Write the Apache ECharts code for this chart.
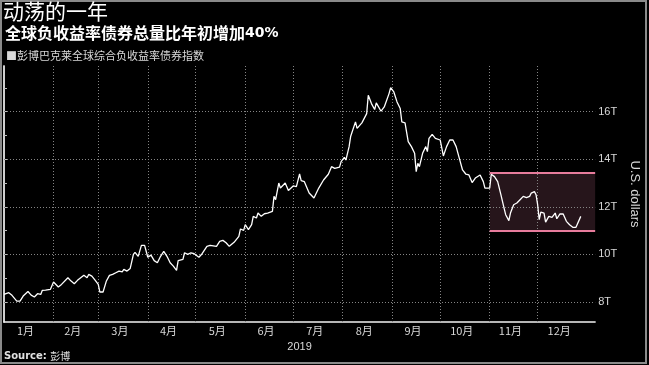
<!DOCTYPE html>
<html>
<head>
<meta charset="utf-8">
<script src="https://cdn.jsdelivr.net/npm/echarts@6/dist/echarts.min.js"></script>
<style>
    html, body { margin: 0; padding: 0; background: #000; }
    #chart { width: 649px; height: 365px; }
</style>
</head>
<body>
<div id="chart"></div>
<script>
// day of year 2019 (0 = 1 Jan) and index level in trillions of US dollars
const days = [
    0, 3, 5, 8, 10, 12, 15, 17, 19, 21, 23, 24, 26, 27, 29, 30, 31, 32, 34, 36,
    37, 40, 42, 44, 46, 48, 50, 52, 53, 55, 57, 59, 60, 62, 64, 66, 68, 70, 72, 74,
    75, 77, 79, 81, 82, 84, 86, 88, 90, 92, 94, 96, 98, 100, 102, 104, 106, 108, 109, 112,
    113, 115, 117, 119, 122, 124, 125, 127, 129, 133, 135, 137, 139, 141, 144, 147, 148, 150, 151, 153,
    155, 156, 158, 159, 161, 163, 165, 168, 169, 170, 172, 173, 176, 178, 181, 183, 185, 186, 188, 191,
    194, 197, 200, 203, 205, 207, 210, 211, 213, 214, 216, 217, 218, 220, 221, 224, 227, 228, 230, 232,
    233, 234, 236, 238, 241, 242, 244, 246, 248, 249, 251, 253, 255, 257, 258, 259, 260, 262, 264, 265,
    266, 268, 270, 273, 275, 277, 279, 281, 283, 285, 287, 289, 291, 293, 295, 298, 300, 301, 304, 305,
    307, 309, 311, 313, 314, 316, 317, 319, 321, 323, 325, 327, 329, 330, 332, 333, 334, 335, 336, 338,
    339, 341, 343, 345, 346, 348, 350, 352, 354, 356, 358, 361
];
const values = [
    8.32, 8.39, 8.28, 8.04, 8.04, 8.25, 8.44, 8.29, 8.21, 8.35, 8.32, 8.49, 8.50, 8.57, 8.53, 8.60, 8.84, 8.77, 8.63, 8.74,
    8.77, 9.02, 8.88, 8.77, 8.91, 9.02, 9.13, 9.02, 9.16, 9.09, 8.92, 8.74, 8.42, 8.42, 8.87, 9.12, 9.16, 9.23, 9.30, 9.27,
    9.37, 9.30, 9.41, 10.00, 10.09, 9.92, 10.38, 10.38, 9.88, 9.97, 9.74, 9.65, 9.92, 10.13, 9.92, 9.65, 9.51, 9.33, 9.74, 9.79,
    10.07, 10.00, 10.07, 10.03, 9.88, 10.03, 10.07, 10.34, 10.38, 10.34, 10.55, 10.59, 10.49, 10.34, 10.51, 10.76, 11.07, 11.01, 11.25, 11.04,
    11.25, 11.60, 11.53, 11.74, 11.60, 11.71, 11.74, 11.81, 12.44, 12.30, 13.00, 12.79, 13.00, 12.69, 12.88, 12.85, 13.38, 13.10, 13.06, 12.58,
    12.37, 12.79, 13.13, 13.37, 13.69, 13.62, 13.67, 13.90, 14.08, 13.97, 14.53, 14.97, 14.95, 15.57, 15.30, 15.53, 15.92, 16.69, 16.34, 16.09,
    16.37, 16.37, 16.02, 16.20, 16.76, 17.01, 16.83, 16.41, 16.13, 15.57, 15.53, 14.74, 14.53, 14.25, 13.48, 13.83, 13.69, 14.25, 14.53, 14.32,
    14.88, 15.05, 14.88, 14.81, 14.14, 14.53, 14.81, 14.81, 14.53, 14.04, 13.55, 13.38, 13.34, 13.02, 13.21, 13.34, 13.06, 12.79, 12.79, 13.37,
    13.27, 13.06, 12.51, 11.95, 11.67, 11.42, 11.74, 12.09, 12.16, 12.30, 12.44, 12.39, 12.44, 12.58, 12.64, 12.51, 12.09, 11.46, 11.78, 11.74,
    11.36, 11.60, 11.56, 11.74, 11.50, 11.70, 11.70, 11.39, 11.25, 11.14, 11.14, 11.60
];

const monthNames = ["1月", "2月", "3月", "4月", "5月", "6月", "7月", "8月", "9月", "10月", "11月", "12月"];
const monthStarts = [0, 31, 59, 90, 120, 151, 181, 212, 243, 273, 304, 334, 365];
const yTicks = [8, 9, 10, 11, 12, 13, 14, 15, 16, 17];
const yLabels = [8, 10, 12, 14, 16];
const boxStart = 304;          // 1 Nov
const boxRange = [11.0, 13.45]; // trading range marked in pink

const xMin = 0, xMax = 370;
const yMin = 7.16, yMax = 17.92;

const font = "'Liberation Sans', 'Noto Sans CJK SC', sans-serif";
const cjk = "'Noto Sans CJK SC', 'Liberation Sans', sans-serif";

const monthMids = monthNames.map((m, i) => (monthStarts[i] + monthStarts[i + 1]) / 2 - 2);
const gridStyle = { color: "#858585", width: 1, type: [1, 2] };

const chart = echarts.init(document.getElementById("chart"), null, { renderer: "canvas" });

const option = {
    backgroundColor: "#000",
    animation: false,
    grid: { left: 4, right: 44, top: 66, bottom: 43, containLabel: false },
    xAxis: {
        type: "value",
        min: xMin,
        max: xMax,
        axisLine: { show: true, lineStyle: { color: "#f2f2f2", width: 1.5 } },
        axisTick: { show: false },
        splitLine: { show: false },
        axisLabel: {
            customValues: monthMids,
            formatter: (v) => monthNames[monthStarts.filter((s) => s <= v).length - 1],
            color: "#d8d8d8",
            fontSize: 11,
            fontFamily: cjk,
            margin: 3
        },
        name: "2019",
        nameLocation: "middle",
        nameGap: 19,
        nameTextStyle: { color: "#d8d8d8", fontSize: 11, fontFamily: font }
    },
    yAxis: [
        {
            type: "value",
            position: "right",
            min: yMin,
            max: yMax,
            axisLine: { show: true, lineStyle: { color: "#bdbdbd", width: 1.5 } },
            axisTick: { show: true, customValues: yTicks, length: 3, lineStyle: { color: "#bdbdbd" } },
            splitLine: { show: false },
            axisLabel: {
                customValues: yLabels,
                formatter: (v) => v + "T",
                color: "#d8d8d8",
                fontSize: 11,
                fontFamily: font,
                margin: 3
            },
            name: "U.S. dollars",
            nameLocation: "middle",
            nameRotate: -90,
            nameGap: 31,
            nameTextStyle: { color: "#d8d8d8", fontSize: 13, fontFamily: font }
        },
        {
            type: "value",
            position: "left",
            min: yMin,
            max: yMax,
            axisLine: { show: true, lineStyle: { color: "#e6e6e6", width: 1.5 } },
            axisTick: { show: false },
            axisLabel: { show: false },
            splitLine: { show: false }
        }
    ],
    series: [
        {
            // pink range box
            type: "line",
            data: [],
            z: 1,
            markArea: {
                silent: true,
                z: 0,
                itemStyle: { color: "#26151b" },
                data: [[{ xAxis: boxStart, yAxis: boxRange[0] }, { xAxis: xMax, yAxis: boxRange[1] }]]
            },
            markLine: {
                silent: true,
                symbol: ["none", "none"],
                label: { show: false },
                lineStyle: { color: "#e77c9c", width: 2, type: "solid" },
                data: boxRange.map((v) => [{ coord: [boxStart, v] }, { coord: [xMax, v] }])
            }
        },
        {
            name: "彭博巴克莱全球综合负收益率债券指数",
            type: "line",
            z: 3,
            data: days.map((d, i) => [d, values[i]]),
            showSymbol: false,
            lineStyle: { color: "#ffffff", width: 1.3 },
            // dotted grid: labelled values and month starts
            markLine: {
                silent: true,
                z: 1,
                symbol: ["none", "none"],
                label: { show: false },
                lineStyle: gridStyle,
                data: yLabels.map((v) => ({ yAxis: v }))
                    .concat(monthStarts.slice(1, 12).map((d) => ({ xAxis: d })))
            }
        }
    ],
    graphic: [
        {
            type: "rect",
            shape: { x: 1, y: 1, width: 645, height: 362 },
            style: { fill: "none", stroke: "#8a8a8a", lineWidth: 2 },
            silent: true
        },
        {
            type: "text",
            left: 3,
            top: 1,
            style: { text: "动荡的一年", fill: "#ffffff", font: "21px " + cjk }
        },
        {
            type: "text",
            left: 5,
            top: 25,
            style: {
                text: "{a|全球负收益率债券总量比年初增加}{b|40%}",
                rich: {
                    a: { fill: "#ffffff", fontSize: 16, fontWeight: "bold", fontFamily: cjk },
                    b: { fill: "#ffffff", fontSize: 14, fontWeight: "bold", fontFamily: "'DejaVu Sans', sans-serif" }
                }
            }
        },
        {
            type: "text",
            left: 6,
            top: 50,
            style: { text: "■彭博巴克莱全球综合负收益率债券指数", fill: "#d8d8d8", font: "11px " + cjk }
        },
        {
            type: "text",
            left: 4,
            top: 350,
            style: {
                text: "{a|Source:} {b|彭博}",
                rich: {
                    a: { fill: "#e0e0e0", fontSize: 10, fontWeight: "bold", fontFamily: "'DejaVu Sans', sans-serif" },
                    b: { fill: "#e0e0e0", fontSize: 10, fontFamily: cjk }
                }
            }
        }
    ]
};

chart.setOption(option);
</script>
</body>
</html>
